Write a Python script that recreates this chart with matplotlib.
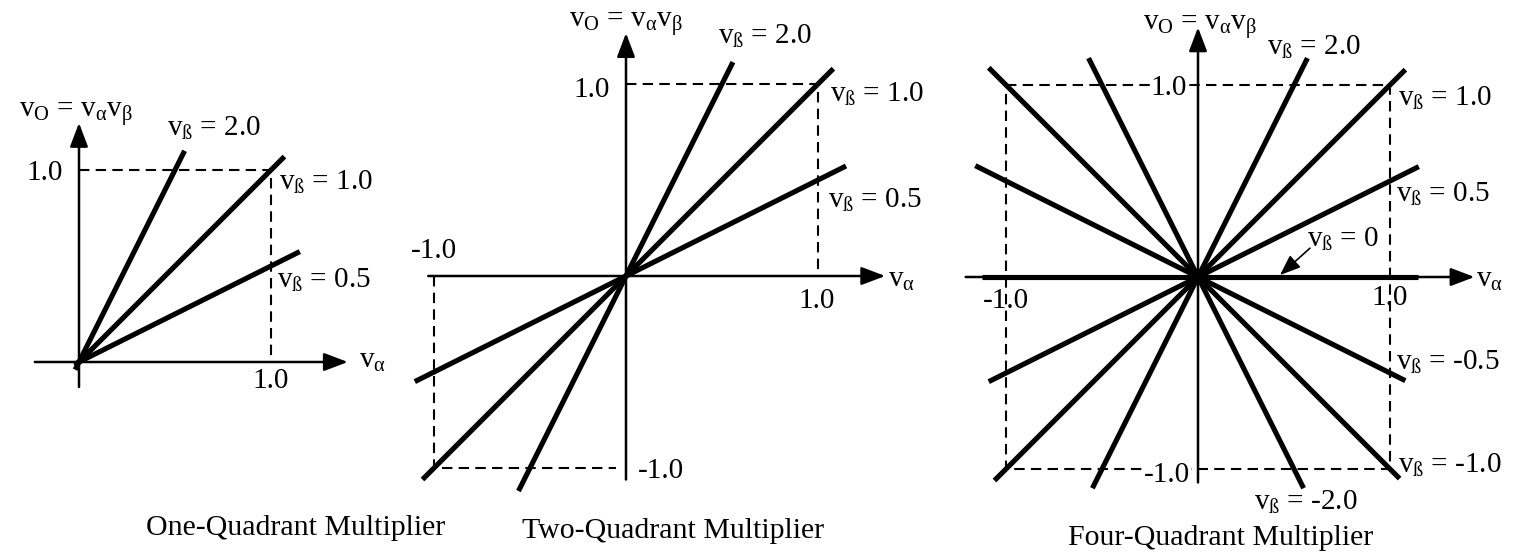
import matplotlib
matplotlib.use('Agg')
import matplotlib.pyplot as plt

plt.rcParams['font.family'] = ['Liberation Serif', 'DejaVu Serif']
plt.rcParams['mathtext.fontset'] = 'custom'
plt.rcParams['mathtext.rm'] = 'Liberation Serif'
plt.rcParams['mathtext.it'] = 'Liberation Serif'
plt.rcParams['mathtext.default'] = 'rm'

# slopes (v_beta) and x extents of the thick lines, one list per panel
one_betas = [2.0, 1.0, 0.5]
one_x_lo = [-0.02, -0.02, -0.02]
one_x_hi = [0.55, 1.07, 1.15]

two_betas = [2.0, 1.0, 0.5]
two_x_lo = [-0.56, -1.06, -1.10]
two_x_hi = [0.557, 1.08, 1.146]

four_betas = [2.0, 1.0, 0.5, 0.0, -0.5, -1.0, -2.0]
four_x_lo = [-0.55, -1.06, -1.09, -1.125, -1.16, -1.09, -0.57]
four_x_hi = [0.57, 1.08, 1.15, 1.146, 1.08, 1.05, 0.55]

captions = ['One-Quadrant Multiplier', 'Two-Quadrant Multiplier', 'Four-Quadrant Multiplier']

W, H = 1520, 554
UNIT = 192.0
FS = 21
CAP_FS = 21.5

fig = plt.figure(figsize=(W / 100, H / 100), dpi=100)

vb = 'v$_\\mathrm{ß}$'
title = 'v$_\\mathrm{O}$ = v$_\\alpha$v$_\\beta$'
va_lbl = 'v$_\\alpha$'


def panel(ox, oy):
    # axes spanning the whole figure, origin placed at pixel (ox, oy from top)
    ax = fig.add_axes([0, 0, 1, 1])
    ax.set_xlim(-ox / UNIT, (W - ox) / UNIT)
    ax.set_ylim(-(H - oy) / UNIT, oy / UNIT)
    ax.axis('off')
    ax.patch.set_alpha(0)
    return ax


def axes_arrows(ax, x0, x1, y0, y1):
    ap = dict(arrowstyle='-|>,head_length=1.0,head_width=0.38', lw=1.8,
              color='k', mutation_scale=14.5, shrinkA=0, shrinkB=0)
    ax.annotate('', xy=(x1, 0), xytext=(x0, 0), arrowprops=ap)
    ax.annotate('', xy=(0, y1), xytext=(0, y0), arrowprops=ap)


def thick(ax, betas, lo, hi):
    for b, a, c in zip(betas, lo, hi):
        ax.plot([a, c], [b * a, b * c], color='k', lw=3.7,
                solid_capstyle='butt', zorder=3)


def dashed(ax, xs, ys):
    ax.plot(xs, ys, color='k', lw=1.5, ls=(0, (5, 3)), zorder=2)


def txt(ax, x, y, s, ha='left', bg=False, fs=FS):
    kw = {}
    if bg:
        kw['bbox'] = dict(facecolor='white', edgecolor='none', pad=0.5)
    ax.text(x, y, s, ha=ha, va='baseline', fontsize=fs, zorder=4, **kw)


# ---- one-quadrant
ax1 = panel(79, 362)
axes_arrows(ax1, -0.23, 1.40, -0.13, 1.245)
dashed(ax1, [0, 1, 1], [1, 1, 0])
thick(ax1, one_betas, one_x_lo, one_x_hi)
txt(ax1, -0.015, 1.276, title, ha='center')
txt(ax1, 0.46, 1.18, vb + ' = 2.0')
txt(ax1, 1.04, 0.896, vb + ' = 1.0')
txt(ax1, 1.03, 0.385, vb + ' = 0.5')
txt(ax1, -0.083, 0.95, '1.0', ha='right')
txt(ax1, 1.0, -0.135, '1.0', ha='center')
txt(ax1, 1.46, -0.03, va_lbl)
txt(ax1, 1.13, -0.90, captions[0], ha='center', fs=CAP_FS)

# ---- two-quadrant
ax2 = panel(626, 276)
axes_arrows(ax2, -1.03, 1.35, -1.06, 1.265)
dashed(ax2, [0, 1, 1], [1, 1, 0])
dashed(ax2, [-1, -1, -0.05], [0, -1, -1])
thick(ax2, two_betas, two_x_lo, two_x_hi)
txt(ax2, 0.0, 1.297, title, ha='center')
txt(ax2, 0.48, 1.21, vb + ' = 2.0')
txt(ax2, 1.06, 0.906, vb + ' = 1.0')
txt(ax2, 1.05, 0.354, vb + ' = 0.5')
txt(ax2, -0.083, 0.93, '1.0', ha='right')
txt(ax2, 0.995, -0.167, '1.0', ha='center')
txt(ax2, -1.0, 0.094, '-1.0', ha='center')
txt(ax2, 0.0625, -1.05, '-1.0')
txt(ax2, 1.365, -0.057, va_lbl)
txt(ax2, 0.245, -1.365, captions[1], ha='center', fs=CAP_FS)

# ---- four-quadrant
ax3 = panel(1198, 277)
axes_arrows(ax3, -1.21, 1.44, -1.07, 1.30)
dashed(ax3, [-1, 1, 1, -1, -1], [1, 1, -1, -1, 1])
thick(ax3, four_betas, four_x_lo, four_x_hi)
txt(ax3, 0.01, 1.29, title, ha='center')
txt(ax3, 0.36, 1.156, vb + ' = 2.0')
txt(ax3, 1.04, 0.89, vb + ' = 1.0')
txt(ax3, 1.03, 0.39, vb + ' = 0.5')
txt(ax3, 0.57, 0.156, vb + ' = 0')
txt(ax3, 1.03, -0.484, vb + ' = -0.5')
txt(ax3, 1.04, -1.02, vb + ' = -1.0')
txt(ax3, 0.29, -1.21, vb + ' = -2.0')
txt(ax3, -0.057, 0.948, '1.0', ha='right', bg=True)
txt(ax3, -0.04, -1.068, '-1.0', ha='right', bg=True)
txt(ax3, -1.0, -0.161, '-1.0', ha='center')
txt(ax3, 1.0, -0.146, '1.0', ha='center')
txt(ax3, 1.45, -0.052, va_lbl)
txt(ax3, 0.12, -1.396, captions[2], ha='center', fs=CAP_FS)
ax3.annotate('', xy=(0.427, 0.01), xytext=(0.583, 0.15),
             arrowprops=dict(arrowstyle='-|>,head_length=0.9,head_width=0.35',
                             lw=1.2, color='k', mutation_scale=14,
                             shrinkA=0, shrinkB=0), zorder=4)

fig.savefig('out.png', dpi=100, facecolor='white')
